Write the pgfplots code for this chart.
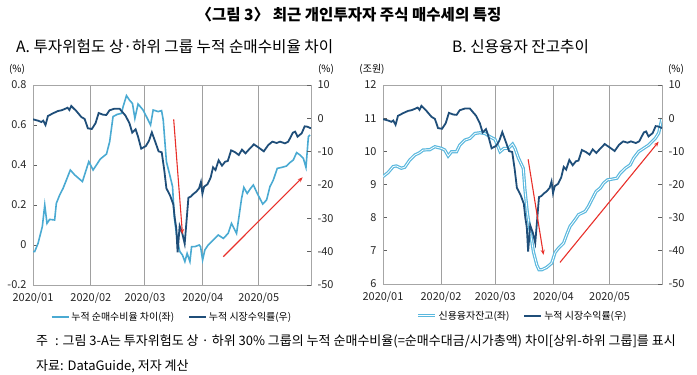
\documentclass[border=0pt]{standalone}
\usepackage{fontspec}
\setmainfont{Noto Sans CJK KR}
\usepackage{pgfplots}
\pgfplotsset{compat=1.18}
\usepackage{pgfplotstable}
\usetikzlibrary{arrows.meta}
\definecolor{nbblue}{HTML}{4AAAD2}
\definecolor{mktblue}{HTML}{1F4E79}
\definecolor{crblue}{HTML}{5BB8DE}
\definecolor{framegray}{HTML}{A6A6A6}
\definecolor{gridgray}{HTML}{A0A0A0}
\definecolor{tickgray}{HTML}{606060}
\definecolor{arrred}{HTML}{E8302A}

\pgfplotstableread{
d v
0 -0.3
2.7 -0.7
4.5 -1.1
5.5 -0.7
6.7 -2.0
8 0.7
10.7 1.5
13.4 2.2
15.2 2.4
17 2.8
18.5 3.2
19.5 2.5
20.5 3.7
23.2 2.2
25.9 0.4
27.7 -0.2
29.4 -3.0
31.5 -3.2
33.5 -1.5
35.2 1.6
37.5 1.1
39.3 1.0
41 2.4
43.7 2.9
46.4 2.9
48.2 1.7
49.6 0.8
51.7 -1.5
53.2 -4.3
55 -3.3
56.2 -5.3
58 -9.1
60.5 -8.3
62.1 -6.8
63.7 -4.2
65.5 -7.0
67.3 -9.9
69 -10.2
70.3 -15.3
71.5 -21.0
73.5 -23.2
75.2 -25.8
76 -30
76.8 -33
77.5 -40.2
78.6 -32.3
80 -34.5
81.3 -37.6
83.3 -23.8
84.5 -23.5
85.7 -22.8
87.5 -22.0
89 -21.0
90.0 -19.1
90.8 -22.6
91.7 -20.5
93.5 -19.8
95.2 -17.8
96.5 -14.7
97.8 -15.5
99.5 -12.6
101.3 -14.2
103 -13.0
104.4 -12.8
106.2 -9.6
108.4 -10.2
110.3 -11.0
112 -9.4
113.9 -10.5
116.3 -9.0
118.4 -7.8
121 -8.8
123.7 -9.9
126.1 -8.0
128.3 -7.0
130.6 -7.4
132.4 -7.0
135 -7.5
136.8 -7.0
139.3 -4.3
140.5 -4.0
141.8 -5.5
144 -4.5
145.6 -2.4
147 -2.5
149 -3.0
}\mkt

\pgfplotstableread{
d v
0 -0.033
0.9 -0.033
2.7 0.008
5 0.092
6.3 0.2
7.5 0.108
8.9 0.128
11.6 0.125
12.5 0.208
14.3 0.25
16.1 0.283
17.9 0.325
20 0.375
22.4 0.35
26.5 0.317
29.9 0.417
32.2 0.375
36.1 0.43
39.4 0.455
41.1 0.517
42.9 0.642
45.1 0.653
47.4 0.658
48.3 0.692
50.1 0.747
51.9 0.722
53.3 0.708
54.6 0.633
56.3 0.705
59 0.675
61.7 0.625
63 0.6
64.4 0.675
67.1 0.667
68.9 0.672
69.8 0.625
71.5 0.417
73.3 0.35
74.8 0.292
75.7 0.142
77.3 0.025
78.7 -0.033
80.1 -0.05
81.4 -0.083
82.6 -0.042
84.1 -0.083
85 -0.008
86.8 -0.008
89.1 0.0
89.8 -0.008
90.9 -0.075
92.1 -0.025
93.9 0.0
95.7 0.017
97.5 0.033
99.3 0.05
102 0.033
104.6 0.058
106.4 0.108
109.1 0.058
111.8 0.233
113 0.288
114.8 0.258
116.6 0.283
118.1 0.3
120.2 0.258
123.1 0.205
125.2 0.225
127 0.292
128.8 0.325
130.9 0.383
133.3 0.388
135.9 0.395
137.7 0.412
139.5 0.425
141.3 0.462
143.1 0.45
144.9 0.433
146.3 0.388
147.6 0.542
148.5 0.55
}\nb

\pgfplotstableread{
d v
0 9.24
2.7 9.36
5.4 9.54
7.1 9.56
9.8 9.49
11.6 9.52
14.3 9.74
17 9.89
19.6 9.96
21.4 10.04
25 10.05
27.7 10.14
31.2 10.09
33 10.04
34.8 9.86
36.6 9.99
39.3 9.99
41 10.19
43.7 10.34
46.4 10.39
49.1 10.54
51.7 10.56
54.4 10.54
57.1 10.44
59.8 10.36
62.5 9.99
64.6 10.09
66.9 10.09
69.2 10.22
70.5 10.09
72.3 9.80
74.9 9.49
75.8 8.84
77.1 8.14
78.5 7.64
80.3 6.98
82.1 6.58
83.3 6.43
84.8 6.43
87.4 6.50
90.1 6.63
91.9 6.95
93.7 7.08
96.4 7.23
98.1 7.49
99.9 7.74
102.6 7.94
104.4 8.09
108 8.19
109.7 8.34
111.5 8.54
113.8 8.79
116 8.89
117.8 9.04
119.9 9.14
122.2 9.16
124.9 9.19
126.7 9.34
129.4 9.49
132 9.59
133.8 9.79
136.5 9.99
139.2 10.09
141.9 10.19
143.6 10.29
145.4 10.39
147.2 10.55
149 11.0
}\credit

\tikzset{
  nbline/.style={draw=nbblue, line width=1.6bp},
  mktline/.style={draw=mktblue, line width=1.8bp},
  crline/.style={draw=crblue, line width=1.2bp, double=white, double distance=0.8bp},
  arr/.style={draw=arrred, line width=1.1bp, -{Stealth[length=5bp,width=4bp]}},
}

\pgfplotsset{
  panel/.style={
    scale only axis, anchor=south west,
    xmin=0, xmax=149,
    axis line style={draw=framegray, line width=0.9bp},
    tick style={draw=tickgray, line width=0.9bp},
    major tick length=4bp, tick align=inside,
    ticklabel style={font=\fontsize{11}{11}\selectfont, text=black!85},
    /pgf/number format/assume math mode=true,
  },
  leftaxis/.style={
    panel,
    xtick={0,31,60,91,121},
    xticklabels={2020/01,2020/02,2020/03,2020/04,2020/05},
    x tick style={draw=none},
    xmajorgrids, grid style={draw=gridgray, line width=1bp},
    ytick pos=left,
    yticklabel style={xshift=-3bp},
    xticklabel style={yshift=-4bp},
  },
  rightaxis/.style={
    panel,
    axis x line=none, axis y line*=right,
    ymin=-50, ymax=10,
    ytick={-50,-40,-30,-20,-10,0,10},
    yticklabels={-50,-40,-30,-20,-10,0,10},
    yticklabel style={xshift=3bp},
    legend columns=2,
    legend style={draw=none, fill=none, at={(0.5,-0.16)}, anchor=center,
      font=\fontsize{10}{10}\selectfont, inner sep=0pt,
      /tikz/every even column/.append style={column sep=12bp}},
    legend cell align=left,
    legend image code/.code={\draw[##1] (0bp,0bp) -- (17bp,0bp);},
  },
}

\begin{document}
\begin{tikzpicture}[x=1bp,y=1bp]
\useasboundingbox (0,0) rectangle (697,374);

\node[font=\bfseries\fontsize{15.6}{15.6}\selectfont] at (349,359) {〈그림 3〉 최근 개인투자자 주식 매수세의 특징};
\node[anchor=west, font=\fontsize{15.7}{15.7}\selectfont, inner sep=0pt] at (16,327) {A. 투자위험도 상·하위 그룹 누적 순매수비율 차이};
\node[anchor=west, font=\fontsize{15.7}{15.7}\selectfont, inner sep=0pt] at (452,327) {B. 신용융자 잔고추이};

\node[font=\fontsize{10}{10}\selectfont] at (17,305) {(\%)};
\node[font=\fontsize{10}{10}\selectfont] at (326,305) {(\%)};
\node[font=\fontsize{10}{10}\selectfont] at (372,305) {(조원)};
\node[font=\fontsize{10}{10}\selectfont] at (676,305) {(\%)};

% Left panel
\begin{axis}[leftaxis, at={(33bp,89bp)}, width=278bp, height=200bp,
  ymin=-0.2, ymax=0.8,
  ytick={-0.2,0,0.2,0.4,0.6,0.8},
  yticklabels={-0.2,0,0.2,0.4,0.6,0.8}]
\addplot[nbline] table[x=d,y=v] {\nb};
\end{axis}
\begin{axis}[rightaxis, at={(33bp,89bp)}, width=278bp, height=200bp]
\addlegendimage{nbline}
\addlegendentry{누적 순매수비율 차이(좌)}
\addplot[mktline] table[x=d,y=v] {\mkt};
\addlegendentry{누적 시장수익률(우)}
\draw[arr] (axis cs:75.4,-0.3) -- (axis cs:80.1,-34.7);
\draw[arr] (axis cs:102,-41.5) -- (axis cs:144.5,-17.7);
\end{axis}

% Right panel
\begin{axis}[leftaxis, at={(383bp,90bp)}, width=279bp, height=199bp,
  ymin=6, ymax=12,
  ytick={6,7,8,9,10,11,12},
  yticklabels={6,7,8,9,10,11,12}]
\addplot[crline] table[x=d,y=v] {\credit};
\end{axis}
\begin{axis}[rightaxis, at={(383bp,90bp)}, width=279bp, height=199bp]
\addlegendimage{crline}
\addlegendentry{신용융자잔고(좌)}
\addplot[mktline] table[x=d,y=v] {\mkt};
\addlegendentry{누적 시장수익률(우)}
\draw[arr] (axis cs:77.5,-12.4) -- (axis cs:85.7,-41.2);
\draw[arr] (axis cs:94.5,-43.5) -- (axis cs:147.2,-7.1);
\end{axis}

\node[anchor=west, font=\fontsize{13.05}{13.05}\selectfont, inner sep=0pt] at (36,33) {주\hspace{7bp}: 그림 3-A는 투자위험도 상 · 하위 30\% 그룹의 누적 순매수비율(=순매수대금/시가총액) 차이[상위-하위 그룹]를 표시};
\node[anchor=west, font=\fontsize{13.05}{13.05}\selectfont, inner sep=0pt] at (36,8) {자료: DataGuide, 저자 계산};
\end{tikzpicture}
\end{document}
